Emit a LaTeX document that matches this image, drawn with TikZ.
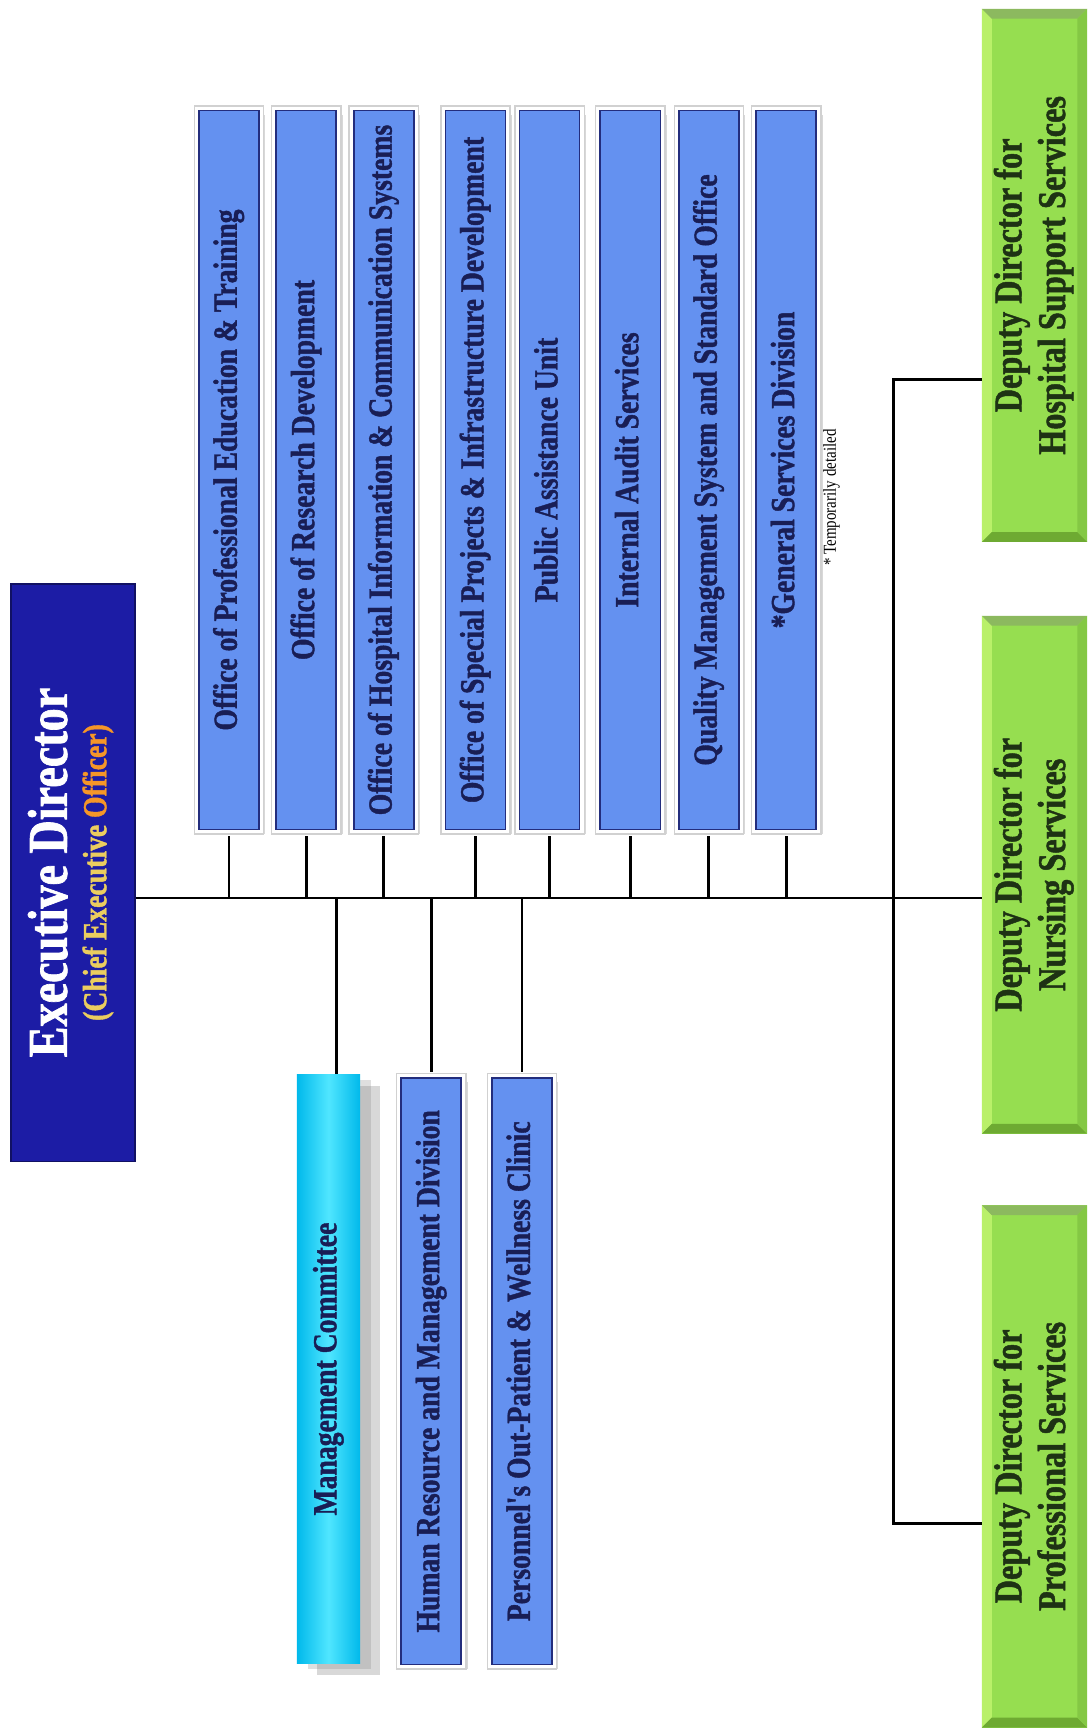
\documentclass[tikz,border=0pt]{standalone}
\usepackage{fontspec}
\newfontfamily\orgfont{Liberation Serif}[FakeStretch=0.82, BoldFeatures={FakeBold=1.2}]
\definecolor{edblue}{RGB}{28,28,165}
\definecolor{edgold}{RGB}{235,205,95}
\definecolor{edorange}{RGB}{245,150,40}
\definecolor{unitblue}{RGB}{100,145,240}
\definecolor{unitedge}{RGB}{35,45,125}
\definecolor{unittext}{RGB}{25,30,85}
\definecolor{mcedge}{RGB}{0,185,235}
\definecolor{mcmid}{RGB}{80,230,255}
\definecolor{depgreen}{RGB}{150,222,80}
\definecolor{deplight}{RGB}{185,240,105}
\definecolor{deptop}{RGB}{140,185,95}
\definecolor{depdark}{RGB}{110,170,50}
\definecolor{depright}{RGB}{132,200,68}
\definecolor{deptext}{RGB}{30,50,20}
\usetikzlibrary{positioning, shadows}
\newcommand{\uptext}[1]{\rotatebox{90}{\begin{tabular}{@{}c@{}}#1\end{tabular}}}

\begin{document}
\begin{tikzpicture}[x=0.02764cm, y=-0.02764cm,
  orgline/.style={line width=2pt, black},
  edbox/.style={rectangle, fill=edblue, draw=edblue!60!black, line width=1pt, text=white, inner sep=0pt,
    minimum width=3.1cm, minimum height=14.43cm, font=\orgfont\bfseries\fontsize{24}{28}\selectfont},
  unitbox/.style={rectangle, fill=unitblue, draw=unitedge, line width=1.2pt, text=unittext, inner sep=0pt,
    minimum width=1.5cm, minimum height=17.97cm, font=\orgfont\bfseries\fontsize{24}{28}\selectfont,
    drop shadow={shadow xshift=4.5pt, shadow yshift=-3pt, opacity=0.3},
    preaction={draw=black!18, line width=7.5pt}, preaction={draw=white, line width=5.5pt}},
  mcbox/.style={rectangle, left color=mcedge, right color=mcedge, middle color=mcmid, text=unittext, inner sep=0pt,
    minimum width=1.58cm, minimum height=14.73cm, font=\orgfont\bfseries\fontsize{24}{28}\selectfont,
    drop shadow={shadow xshift=14pt, shadow yshift=-8pt, opacity=0.3},
    drop shadow={shadow xshift=8pt, shadow yshift=-4pt, opacity=0.25}},
  depbox/.style={rectangle, fill=depgreen, text=deptext, inner sep=0pt, minimum width=2.63cm,
    font=\orgfont\bfseries\fontsize{28}{31}\selectfont,
    path picture={
      \path (path picture bounding box.north west) coordinate (bnw)
            (path picture bounding box.south east) coordinate (bse);
      \fill[deplight] (bnw) -- (bnw |- bse) -- ([shift={(7pt,7pt)}]bnw |- bse) -- ([shift={(7pt,-7pt)}]bnw) -- cycle;
      \fill[deptop] (bnw) -- (bse |- bnw) -- ([shift={(-7pt,-7pt)}]bse |- bnw) -- ([shift={(7pt,-7pt)}]bnw) -- cycle;
      \fill[depdark] (bnw |- bse) -- (bse) -- ([shift={(-7pt,7pt)}]bse) -- ([shift={(7pt,7pt)}]bnw |- bse) -- cycle;
      \fill[depright] (bse) -- (bse |- bnw) -- ([shift={(-7pt,-7pt)}]bse |- bnw) -- ([shift={(-7pt,7pt)}]bse) -- cycle;
    }}
]
\useasboundingbox[fill=white] (0,0) rectangle (985,1568);

% executive director
\node[edbox] (ed) at (66,789) {\uptext{{\fontsize{40}{40}\selectfont Executive Director}\\
  {\color{edgold}(Chief Executive }{\color{edorange}Officer)}}};

% offices above the line
\node[unitbox] (pe) at (207,425) {\uptext{Office of Professional Education \& Training}};
\node[unitbox] (rd) at (277,425) {\uptext{Office of Research Development}};
\node[unitbox] (hi) at (347,425) {\uptext{Office of Hospital Information \& Communication Systems}};
\node[unitbox] (sp) at (430,425) {\uptext{Office of Special Projects \& Infrastructure Development}};
\node[unitbox] (pa) at (497,425) {\uptext{Public Assistance Unit}};
\node[unitbox] (ia) at (570,425) {\uptext{Internal Audit Services}};
\node[unitbox] (qm) at (641,425) {\uptext{Quality Management System and Standard Office}};
\node[unitbox] (gs) at (711,425) {\uptext{*General Services Division}};
\node[font=\orgfont\fontsize{13}{15}\selectfont] (tmp) at (752,450) {\rotatebox{90}{* Temporarily detailed}};

% units below the line
\node[mcbox] (mc) at (297,1238) {\uptext{Management Committee}};
\node[unitbox, minimum height=14.65cm] (hr) at (390,1240) {\uptext{Human Resource and Management Division}};
\node[unitbox, minimum height=14.65cm] (po) at (472,1240) {\uptext{Personnel's Out-Patient \& Wellness Clinic}};

% deputy directors
\node[depbox, minimum height=13.32cm] (hs) at (935.5,249) {\uptext{Deputy Director for\\Hospital Support Services}};
\node[depbox, minimum height=12.94cm] (ns) at (935.5,791) {\uptext{Deputy Director for\\Nursing Services}};
\node[depbox, minimum height=13.05cm] (ps) at (935.5,1326) {\uptext{Deputy Director for\\Professional Services}};

% connectors
\coordinate (hub) at (808,812);
\coordinate (hstop) at (808,343);
\coordinate (psbot) at (808,1378);
\draw[orgline] (ed.east |- hub) -- (ns.west |- hub);
\draw[orgline] (hs.west |- hstop) -- (hstop) -- (psbot) -- (ps.west |- psbot);
\foreach \u in {pe,rd,hi,sp,pa,ia,qm,gs}
  \draw[orgline, shorten <=4pt] (\u.south) -- (\u.south |- hub);
\foreach \u in {hr,po}
  \draw[orgline, shorten <=4pt] (\u.north) -- (\u.north |- hub);
\draw[orgline] ([xshift=6pt]mc.north) -- ([xshift=6pt]mc.north |- hub);
\end{tikzpicture}
\end{document}
